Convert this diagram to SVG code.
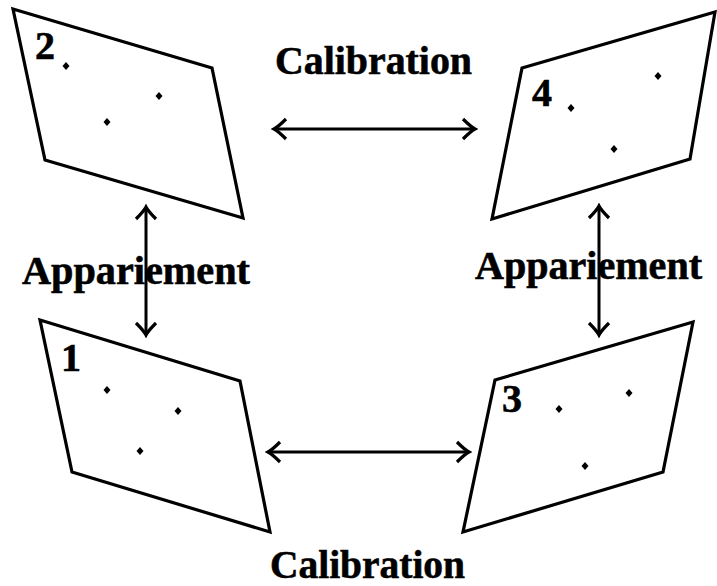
<svg xmlns="http://www.w3.org/2000/svg" width="717" height="586" viewBox="0 0 717 586">
<style>
.panel{fill:none;stroke:#000;stroke-width:3.2;stroke-linejoin:miter}
.lbl{font-family:"Liberation Serif","Times New Roman",serif;font-weight:bold;font-size:40px;fill:#000;stroke:#000;stroke-width:0.6}
.conn{stroke:#000;stroke-width:3;fill:none}
</style>
<defs>
<marker id="ah" markerUnits="userSpaceOnUse" viewBox="-15 -12 18 24" refX="0" refY="0" markerWidth="18" markerHeight="24" orient="auto-start-reverse">
<path d="M-12,-10 Q-4,-2 0,0 Q-4,2 -12,10" fill="none" stroke="#000" stroke-width="3.2"/>
</marker>
<path id="d" d="M0,-4 L3.5,0 L0,4 L-3.5,0 Z"/>
</defs>
<rect width="717" height="586" fill="#fff"/>
<g id="image2">
<polygon class="panel" points="13,9 212,68 243,218 45,160"/>
<text class="lbl" x="35" y="59">2</text>
<use href="#d" x="66" y="66"/><use href="#d" x="159" y="96"/><use href="#d" x="107" y="122"/>
</g>
<g id="image4">
<polygon class="panel" points="522,68 715,12 690,159 492,219"/>
<text class="lbl" x="532" y="106">4</text>
<use href="#d" x="658" y="76"/><use href="#d" x="571" y="108"/><use href="#d" x="614" y="149"/>
</g>
<g id="image1">
<polygon class="panel" points="40,320 240,381 270,532 72,472"/>
<text class="lbl" x="61" y="371">1</text>
<use href="#d" x="107" y="390"/><use href="#d" x="178" y="411"/><use href="#d" x="140" y="451"/>
</g>
<g id="image3">
<polygon class="panel" points="495,380 693,322 663,472 463,532"/>
<text class="lbl" x="502" y="412">3</text>
<use href="#d" x="629" y="393"/><use href="#d" x="559" y="409"/><use href="#d" x="585" y="466"/>
</g>
<g id="connectors">
<line class="conn" x1="274" y1="129" x2="475" y2="129" marker-start="url(#ah)" marker-end="url(#ah)"/>
<line class="conn" x1="268" y1="452" x2="469" y2="452" marker-start="url(#ah)" marker-end="url(#ah)"/>
<line class="conn" x1="146" y1="207" x2="146" y2="335" marker-start="url(#ah)" marker-end="url(#ah)"/>
<line class="conn" x1="599" y1="206" x2="599" y2="335" marker-start="url(#ah)" marker-end="url(#ah)"/>
</g>
<g id="labels">
<text class="lbl" x="275" y="74" textLength="197" lengthAdjust="spacingAndGlyphs">Calibration</text>
<text class="lbl" x="270" y="578" textLength="195" lengthAdjust="spacingAndGlyphs">Calibration</text>
<text class="lbl" x="22" y="284" textLength="228" lengthAdjust="spacingAndGlyphs">Appariement</text>
<text class="lbl" x="475" y="279" textLength="227" lengthAdjust="spacingAndGlyphs">Appariement</text>
</g>
</svg>
